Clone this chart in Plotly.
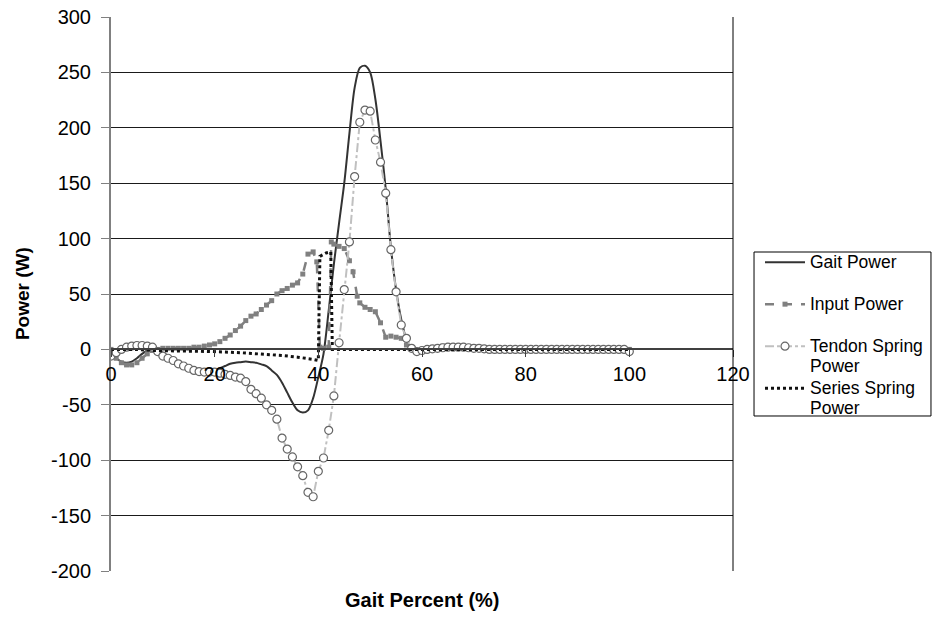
import plotly.graph_objects as go

# ---- data ----
pct = list(range(0, 101))

gait_x = list(range(0, 61)) + [65, 70, 75, 80, 85, 90, 95, 100]
gait_power = [-4, -8, -11, -12, -11, -8, -4, -1, 0, -1,
              -3, -6, -9, -12, -14, -16, -18, -19, -20, -20,
              -19, -17, -15, -13, -12, -11.5, -11, -11.5, -12, -13.5,
              -15, -19, -23, -30, -39, -48, -55, -57, -55, -44,
              -25, -4, 35, 77, 114, 150, 195, 236, 254, 256,
              250, 226, 188, 145, 92, 54, 27, 9, 0, -2,
              -1, 0, 0, 0, 0, 0, 0, 0, 0]

input_x = list(range(0, 40)) + [39.7, 40.3, 41, 42, 42.5] + list(range(43, 47)) + [46.7, 47.5] + list(range(48, 101))
input_power = [0, -8, -12, -14, -14, -12, -8, -4, -1, 0,
               1, 1, 1, 1, 1, 1, 2, 2, 3, 4,
               5, 7, 10, 13, 17, 21, 26, 30, 32, 36,
               40, 44, 50, 53, 55, 58, 60, 68, 86, 88,
               79, 2, 1, 2, 97,
               95, 93, 91, 80,
               70, 48,
               42, 38, 36, 34, 24, 11, 12, 11, 10, 4,
               0, -1, -1, 0, 1, 2, 3, 3, 3, 3,
               3, 2.5, 2, 1, 0.5, 0, 0, 0, 0, 0,
               0, 0, 0, 0, 0, 0, 0, 0, 0, 0,
               0, 0, 0, 0, 0, 0, 0, 0, 0, 0,
               0, 0, 0]

tendon_power = [-6, -3, 0, 2, 3, 3.5, 3.5, 3, 2, -2,
                -6, -8, -10, -13, -15, -17, -19, -20, -20.5, -20.5,
                -20.5, -21.5, -22.5, -23.5, -25, -26, -29, -36, -40, -44,
                -50, -55, -63, -80, -90, -97, -106, -114, -129, -133,
                -110, -98, -73, -42, 6, 54, 97, 156, 205, 216,
                215, 189, 169, 141, 90, 52, 22, 10, 1, -2,
                -1, 0, 0.5, 1, 1.5, 2, 2, 2, 2, 1.5,
                1, 1, 0.5, 0, 0, 0, 0, 0, 0, 0,
                0, 0, 0, 0, 0, 0, 0, 0, 0, 0,
                0, 0, 0, 0, 0, 0, 0, 0, 0, 0,
                -2]

series_x = [0, 5, 8, 15, 20, 25, 30, 33, 36, 38, 39, 40, 40.3, 41.5, 42.4, 42.7, 45, 50, 60, 70, 80, 90, 100]
series_power = [0, 0, -1, -1.5, -2, -3, -4.5, -5.5, -7, -8, -9, -10, 84, 87, 88, 0, 0, 0, 0, 0, 0, 0, 0]

x_ticks = [0, 20, 40, 60, 80, 100, 120]
y_ticks = [-200, -150, -100, -50, 0, 50, 100, 150, 200, 250, 300]
y_tick_text = ["-200", "-150", "-100", "-50", "0", "50", "100", "150", "200", "250", "300"]

FONT = "Liberation Sans, Arial, sans-serif"


def legend_label(text):
    return '<span style="font-size:17.5px">' + text + '</span>'


fig = go.Figure()
fig.add_trace(go.Scatter(
    x=gait_x, y=gait_power, name=legend_label("Gait Power") + "<br> ", mode="lines",
    line=dict(color="#333333", width=2, shape="spline", smoothing=0.8)))
fig.add_trace(go.Scatter(
    x=input_x, y=input_power, name=legend_label("Input Power") + "<br> ", mode="lines+markers",
    line=dict(color="#808080", width=2.5, dash="dash"),
    marker=dict(symbol="square", size=5, color="#808080")))
fig.add_trace(go.Scatter(
    x=pct, y=tendon_power,
    name=legend_label("Tendon Spring") + "<br>" + legend_label("Power"), mode="lines+markers",
    line=dict(color="#c0c0c0", width=2, dash="dashdot"),
    marker=dict(symbol="circle", size=8, color="white",
                line=dict(color="#666666", width=1.2))))
fig.add_trace(go.Scatter(
    x=series_x, y=series_power,
    name=legend_label("Series Spring") + "<br>" + legend_label("Power"), mode="lines",
    line=dict(color="#111111", width=3, dash="dot")))

fig.update_layout(
    width=933, height=619,
    margin=dict(l=111, r=200, t=17, b=48, autoexpand=False),
    paper_bgcolor="white", plot_bgcolor="white",
    font=dict(family=FONT, size=20, color="black"),
    showlegend=True,
    legend=dict(x=1.0434, y=0.5868, xanchor="left", yanchor="top",
                borderwidth=0, bgcolor="rgba(0,0,0,0)",
                font=dict(family=FONT, size=15, color="black"),
                valign="top", itemwidth=40, tracegroupgap=0),
    xaxis=dict(range=[0, 120], tickvals=x_ticks, anchor="free", position=0.4,
               showgrid=False, zeroline=False, showline=True,
               linecolor="#404040", linewidth=1.5,
               ticks="outside", ticklen=7, tickcolor="#404040",
               tickfont=dict(size=20)),
    yaxis=dict(range=[-200, 300], tickvals=y_ticks, ticktext=y_tick_text, showgrid=True,
               gridcolor="#1a1a1a", gridwidth=1, zeroline=False,
               showline=True, linecolor="#808080", linewidth=2,
               ticks="outside", ticklen=8, tickcolor="#808080",
               ticklabelstandoff=6, tickfont=dict(size=20)),
    shapes=[
        dict(type="line", xref="paper", yref="paper", x0=1, x1=1, y0=0, y1=1,
             line=dict(color="black", width=1)),
        dict(type="rect", xref="paper", yref="paper", x0=1.0338, x1=1.3183, y0=0.2798, y1=0.5758,
             line=dict(color="black", width=1), fillcolor="rgba(0,0,0,0)"),
    ],
    annotations=[
        dict(text="<b>Power (W)</b>", xref="paper", yref="paper", x=-0.143, y=0.5,
             xanchor="center", yanchor="middle",
             textangle=-90, showarrow=False, font=dict(size=19)),
        dict(text="<b>Gait Percent (%)</b>", xref="paper", yref="paper", x=0.5, y=-0.052,
             xanchor="center", yanchor="middle",
             showarrow=False, font=dict(size=20)),
    ],
)

fig.write_html("out.html")
